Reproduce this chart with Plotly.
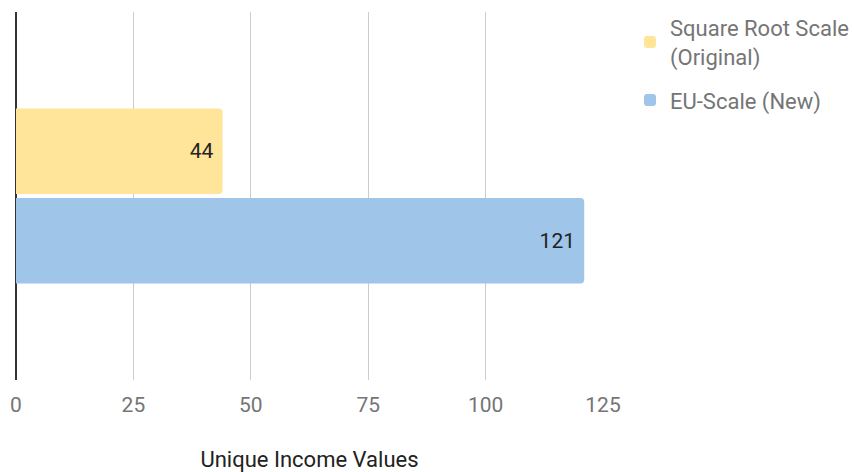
import plotly.graph_objects as go

category = [""]
series_names = ["Square Root Scale<br>(Original)", "EU-Scale (New)"]
sqrt_scale = [44]
eu_scale = [121]
colors = ["#FFE599", "#9FC5E8"]
x_ticks = [0, 25, 50, 75, 100, 125]

fig = go.Figure()
for i, (name, vals, col) in enumerate(zip(series_names, [sqrt_scale, eu_scale], colors)):
    fig.add_trace(go.Bar(
        y=category, x=vals, name=name, orientation="h", legendgroup=f"g{i}",
        marker=dict(color=col, cornerradius=4, line=dict(width=0)),
        text=[str(v) + "\u00a0" for v in vals], textposition="inside",
        insidetextanchor="end",
        textfont=dict(family="Roboto", size=21, color="#222222"),
    ))

fig.update_layout(
    width=854, height=472,
    margin=dict(l=16, r=251, t=12, b=92, autoexpand=False),
    paper_bgcolor="white", plot_bgcolor="white",
    barmode="group", bargap=0.514, bargroupgap=0.045,
    font=dict(family="Roboto", size=21, color="#757575"),
    legend=dict(
        xref="container", yref="container", x=630/854, y=1 - 7/472,
        xanchor="left", yanchor="top",
        font=dict(family="Roboto", size=22, color="#757575"),
        tracegroupgap=12, traceorder="grouped",
    ),
    xaxis=dict(
        range=[0, 125], tickvals=x_ticks, showgrid=True, gridcolor="#CCCCCC",
        gridwidth=1, zeroline=True, zerolinecolor="#333333", zerolinewidth=2,
        tickfont=dict(family="Roboto", size=21, color="#757575"),
        ticklabelstandoff=10, automargin=False,
        title=dict(text="Unique Income Values", standoff=38,
                   font=dict(family="Roboto", size=22, color="#222222")),
    ),
    yaxis=dict(autorange="reversed", showticklabels=False, showgrid=False,
               zeroline=False, automargin=False),
)

fig.write_html("out.html", config={"displayModeBar": False},
               post_script="document.body.style.margin='0';")
